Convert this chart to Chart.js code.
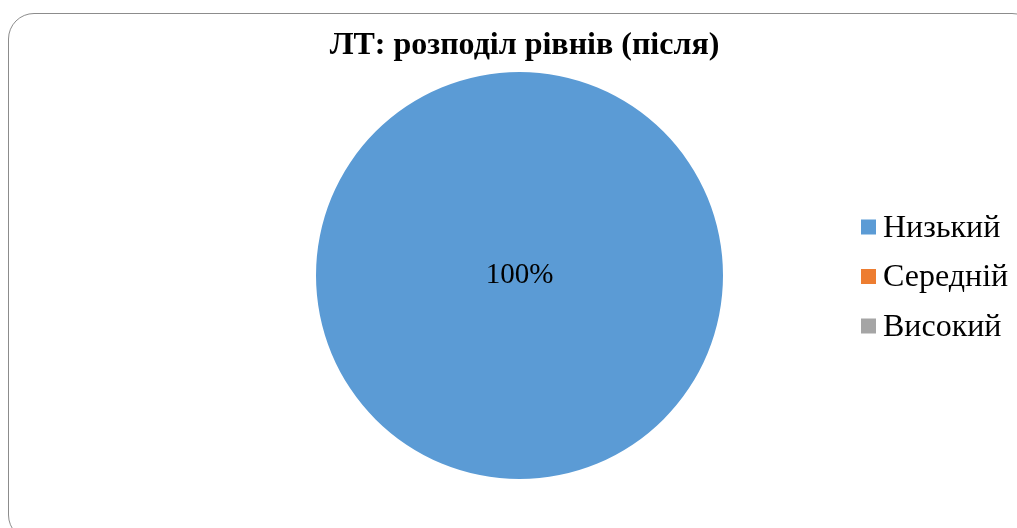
<!DOCTYPE html>
<html lang="uk">
<head>
<meta charset="utf-8">
<title>ЛТ: розподіл рівнів (після)</title>
<script src="https://cdn.jsdelivr.net/npm/chart.js@4.4.1/dist/chart.umd.min.js"></script>
<style>
  html, body { margin: 0; padding: 0; background: #fff; overflow: hidden; }
  #wrap { position: relative; width: 1017px; height: 528px; overflow: hidden; }
  #frame {
    position: absolute; left: 8px; top: 13px; width: 1030px; height: 528px;
    border: 1.5px solid #8c8c8c; border-radius: 26px; box-sizing: border-box;
  }
  canvas { position: absolute; left: 0; top: 0; }
</style>
</head>
<body>
<div id="wrap">
  <div id="frame"></div>
  <canvas id="chart" width="1017" height="528"></canvas>
</div>
<script>
// Levels and their share after the intervention
const chartTitle = 'ЛТ: розподіл рівнів (після)';
const levels = ['Низький', 'Середній', 'Високий'];
const shares = [100, 0, 0];
const levelColors = ['#5B9BD5', '#ED7D31', '#A5A5A5'];

const serif = '"Liberation Serif", "Times New Roman", serif';

// Title drawn above the pie
const titlePlugin = {
  id: 'topTitle',
  afterDraw(chart) {
    const ctx = chart.ctx;
    ctx.save();
    ctx.font = 'bold 32px ' + serif;
    ctx.fillStyle = '#000';
    ctx.textAlign = 'center';
    ctx.textBaseline = 'alphabetic';
    ctx.fillText(chartTitle, 524.5, 54);
    ctx.restore();
  }
};

// Percentage label placed on each non-empty slice
const percentLabels = {
  id: 'percentLabels',
  afterDatasetsDraw(chart) {
    const ctx = chart.ctx;
    const data = chart.data.datasets[0].data;
    const total = data.reduce((a, b) => a + b, 0);
    const meta = chart.getDatasetMeta(0);
    ctx.save();
    ctx.font = '29px ' + serif;
    ctx.fillStyle = '#000';
    ctx.textAlign = 'center';
    ctx.textBaseline = 'middle';
    meta.data.forEach((arc, i) => {
      const v = data[i];
      if (!v) return;
      const full = arc.circumference >= Math.PI * 2 - 1e-6;
      const pos = full ? { x: arc.x, y: arc.y } : arc.tooltipPosition();
      ctx.fillText(Math.round(v / total * 100) + '%', pos.x, pos.y);
    });
    ctx.restore();
  }
};

// Legend on the right: square swatch + level name
const sideLegend = {
  id: 'sideLegend',
  afterDraw(chart) {
    const ctx = chart.ctx;
    const meta = chart.getDatasetMeta(0);
    const cy = meta.data[0].y;
    const step = 49.5;
    const n = chart.data.labels.length;
    ctx.save();
    ctx.font = '32px ' + serif;
    ctx.textBaseline = 'alphabetic';
    ctx.textAlign = 'left';
    chart.data.labels.forEach((label, i) => {
      const base = cy + 10.5 + (i - (n - 1) / 2) * step;
      ctx.fillStyle = chart.data.datasets[0].backgroundColor[i];
      ctx.fillRect(861, base - 17, 15, 15);
      ctx.fillStyle = '#000';
      ctx.fillText(label, 883, base);
    });
    ctx.restore();
  }
};

new Chart(document.getElementById('chart'), {
  type: 'pie',
  data: {
    labels: levels,
    datasets: [{
      data: shares,
      backgroundColor: levelColors,
      borderWidth: 0
    }]
  },
  options: {
    responsive: false,
    animation: false,
    rotation: 0,
    layout: { padding: { top: 72, bottom: 49, left: 22, right: 0 } },
    plugins: {
      legend: { display: false },
      title: { display: false },
      tooltip: { enabled: false }
    }
  },
  plugins: [percentLabels, titlePlugin, sideLegend]
});
</script>
</body>
</html>
